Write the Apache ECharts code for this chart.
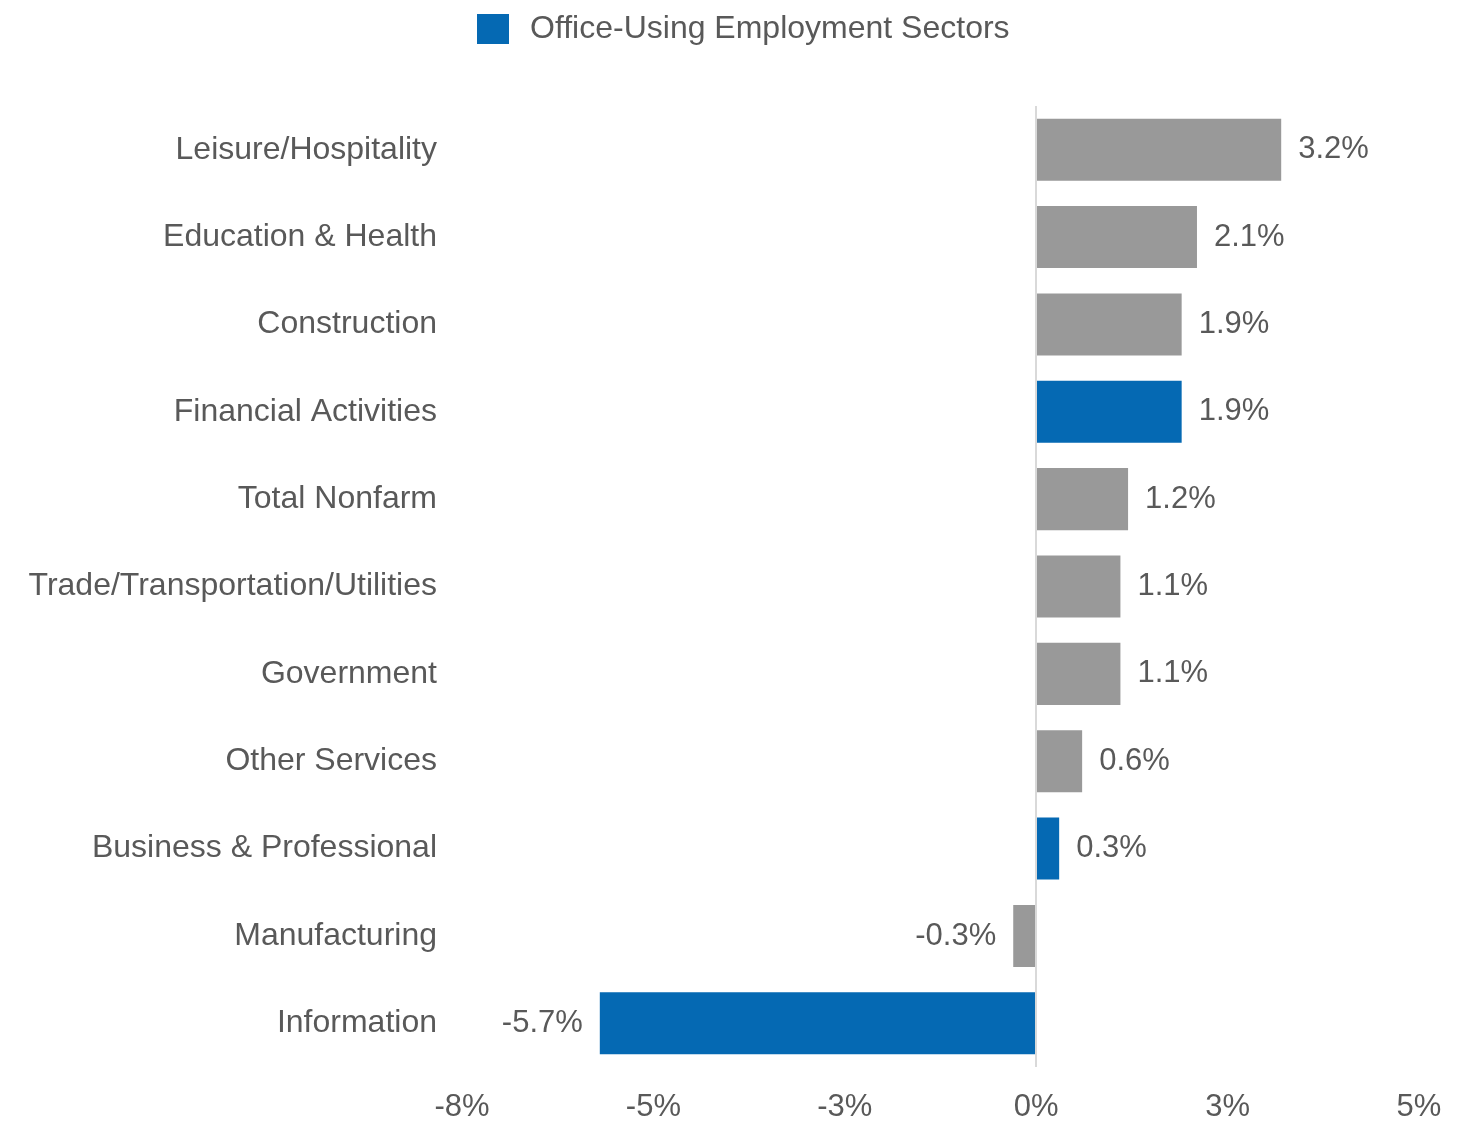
<!DOCTYPE html>
<html>
<head>
<meta charset="utf-8">
<title>Employment Growth by Sector</title>
<script src="https://cdn.jsdelivr.net/npm/echarts@6/dist/echarts.min.js"></script>
<style>
  html, body { margin: 0; padding: 0; background: #ffffff; }
  #chart { width: 1477px; height: 1123px; }
</style>
</head>
<body>
<div id="chart"></div>
<script>
// Sectors, top to bottom
const categories = [
  'Leisure/Hospitality',
  'Education & Health',
  'Construction',
  'Financial Activities',
  'Total Nonfarm',
  'Trade/Transportation/Utilities',
  'Government',
  'Other Services',
  'Business & Professional',
  'Manufacturing',
  'Information'
];

// Year-over-year employment change, %
const values = [3.2, 2.1, 1.9, 1.9, 1.2, 1.1, 1.1, 0.6, 0.3, -0.3, -5.7];

// Sectors that use office space
const officeSectors = ['Financial Activities', 'Business & Professional', 'Information'];

// Value axis ticks
const xMin = -7.5;
const xMax = 5;
const xStep = 2.5;
const tickLabels = ['-8%', '-5%', '-3%', '0%', '3%', '5%'];

const officeName = 'Office-Using Employment Sectors';
const textColor = '#595959';
const font = 'Arial, "Liberation Sans", sans-serif';

function item(v) {
  return {
    value: v,
    label: { position: v < 0 ? 'left' : 'right' }
  };
}

const officeData = categories.map((c, i) =>
  officeSectors.includes(c) ? item(values[i]) : '-');
const otherData = categories.map((c, i) =>
  officeSectors.includes(c) ? '-' : item(values[i]));

const barLabel = {
  show: true,
  distance: 17,
  color: textColor,
  fontSize: 31,
  fontFamily: font,
  padding: [5, 0, 0, 0],
  formatter: p => p.value.toFixed(1) + '%'
};

const chart = echarts.init(document.getElementById('chart'), null, { renderer: 'canvas' });

chart.setOption({
  animation: false,
  backgroundColor: '#ffffff',
  legend: {
    data: [officeName],
    left: 472,
    top: 8,
    itemWidth: 32,
    itemHeight: 30,
    itemGap: 20,
    icon: 'rect',
    textStyle: { color: textColor, fontSize: 32, fontFamily: font, padding: [0, 0, 0, 16] }
  },
  grid: { left: 462, right: 58, top: 106, bottom: 53, containLabel: false },
  xAxis: {
    type: 'value',
    min: xMin,
    max: xMax,
    interval: xStep,
    axisLine: { show: false },
    axisTick: { show: false },
    splitLine: { show: false },
    axisLabel: {
      color: textColor,
      fontSize: 31,
      fontFamily: font,
      margin: 25,
      formatter: v => tickLabels[Math.round((v - xMin) / xStep)]
    }
  },
  yAxis: {
    type: 'category',
    data: categories,
    inverse: true,
    axisLine: { show: false, onZero: false },
    axisTick: { show: false },
    axisLabel: {
      color: textColor,
      fontSize: 32,
      fontFamily: font,
      margin: 25,
      padding: [2, 0, 0, 0]
    }
  },
  series: [
    {
      name: 'Other Sectors',
      type: 'bar',
      data: otherData,
      barCategoryGap: '29%',
      barGap: '-100%',
      itemStyle: { color: '#999999' },
      label: barLabel,
      markLine: {
        silent: true,
        symbol: 'none',
        label: { show: false },
        lineStyle: { color: '#d9d9d9', width: 2, type: 'solid' },
        data: [{ xAxis: 0 }]
      }
    },
    {
      name: officeName,
      type: 'bar',
      data: officeData,
      barCategoryGap: '29%',
      barGap: '-100%',
      itemStyle: { color: '#0569b3' },
      label: barLabel
    }
  ]
});
</script>
</body>
</html>
